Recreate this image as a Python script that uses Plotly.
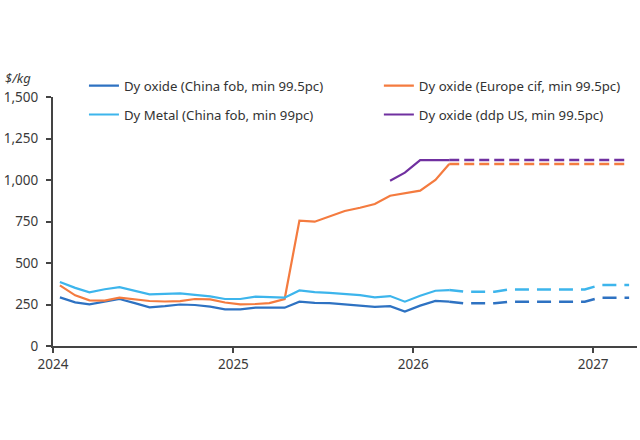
import pandas as pd
import plotly.graph_objects as go

# Monthly observation dates (mid-month), Jan 2024 .. Mar 2027
actual_dates = [d.strftime("%Y-%m-15") for d in pd.date_range("2024-01-01", "2026-03-01", freq="MS")]
forecast_dates = [d.strftime("%Y-%m-15") for d in pd.date_range("2026-03-01", "2027-03-01", freq="MS")]

# Actuals ($/kg)
china_oxide = [293, 263, 251, 268, 283, 258, 233, 240, 250, 247, 237, 221, 221, 231, 231, 231,
               267, 260, 258, 252, 245, 236, 240, 207, 243, 272, 267]
europe_oxide = [365, 305, 275, 273, 291, 280, 271, 268, 270, 283, 281, 262, 251, 253, 258, 283,
                755, 749, 779, 813, 833, 855, 905, 920, 936, 1000, 1096]
china_metal = [385, 350, 323, 342, 354, 333, 311, 314, 317, 308, 299, 283, 283, 297, 294, 291,
               335, 325, 320, 315, 307, 293, 301, 267, 303, 333, 337]
us_oxide = [None] * 22 + [996, 1044, 1120, 1120, 1120]

# Forecasts ($/kg), starting from the last actual month
china_oxide_fc = [267, 257, 257, 257, 267, 267, 267, 267, 267, 267, 291, 291, 291]
europe_oxide_fc = [1096, 1096, 1096, 1096, 1096, 1096, 1096, 1096, 1096, 1096, 1096, 1096, 1096]
china_metal_fc = [337, 327, 327, 327, 341, 341, 341, 341, 341, 341, 367, 367, 367]
us_oxide_fc = [1120, 1120, 1120, 1120, 1120, 1120, 1120, 1120, 1120, 1120, 1120, 1120, 1120]

names = ["Dy oxide (China fob, min 99.5pc)", "Dy oxide (Europe cif, min 99.5pc)",
         "Dy Metal (China fob, min 99pc)", "Dy oxide (ddp US, min 99.5pc)"]

C_DARK = "#2E72C2"
C_ORANGE = "#F47B3F"
C_LIGHT = "#3DB5EC"
C_PURPLE = "#7030A0"

FONT = "Noto Sans"
TXT = "#3a3a3a"
AX = "#444444"

fig = go.Figure()

series = [
    (china_oxide, china_oxide_fc, names[0], C_DARK, "legend", "14px,8px"),
    (europe_oxide, europe_oxide_fc, names[1], C_ORANGE, "legend2", "10px,5px"),
    (china_metal, china_metal_fc, names[2], C_LIGHT, "legend3", "14px,8px"),
    (us_oxide, us_oxide_fc, names[3], C_PURPLE, "legend4", "10px,5px"),
]

for act, fc, nm, col, lg, dash in series:
    fig.add_trace(go.Scatter(x=forecast_dates, y=fc, mode="lines", showlegend=False,
                             line=dict(color=col, width=2.5, dash=dash), hoverinfo="skip"))

for act, fc, nm, col, lg, dash in series:
    fig.add_trace(go.Scatter(x=actual_dates, y=act, mode="lines", name=nm, legend=lg,
                             line=dict(color=col, width=2.2)))

legend_common = dict(orientation="h", xanchor="left", yanchor="middle",
                     font=dict(family=FONT, size=13.2, color="#333333"),
                     bgcolor="rgba(0,0,0,0)", itemwidth=30)

X1, X2 = 0.053, 0.558
Y1, Y2 = 1.044, 0.928

fig.update_layout(
    width=640, height=440,
    margin=dict(l=53, r=3, t=97, b=94),
    paper_bgcolor="white", plot_bgcolor="white",
    font=dict(family=FONT, color=TXT),
    legend=dict(x=X1, y=Y1, **legend_common),
    legend2=dict(x=X2, y=Y1, **legend_common),
    legend3=dict(x=X1, y=Y2, **legend_common),
    legend4=dict(x=X2, y=Y2, **legend_common),
    xaxis=dict(range=["2024-01-01", "2027-03-31"], type="date", dtick="M12",
               tick0="2024-01-01", tickformat="%Y", showgrid=False, zeroline=False,
               showline=True, linecolor=AX, linewidth=2,
               ticks="outside", ticklen=5, tickwidth=1.5, tickcolor=AX,
               tickfont=dict(family=FONT, size=13.5, color=TXT)),
    yaxis=dict(range=[0, 1500], dtick=250, tickformat=",", showgrid=False, zeroline=False,
               showline=True, linecolor=AX, linewidth=2,
               ticks="outside", ticklen=5, tickwidth=1.5, tickcolor=AX,
               ticklabelstandoff=5,
               tickfont=dict(family=FONT, size=13.5, color=TXT)),
    annotations=[dict(text="<i>$/kg</i>", xref="paper", yref="paper", x=-0.086, y=1.076,
                      xanchor="left", yanchor="middle", showarrow=False,
                      font=dict(family=FONT, size=13, color=TXT))],
)

fig.write_html("out.html", config={"displayModeBar": False},
               post_script="document.body.style.margin='0';")
